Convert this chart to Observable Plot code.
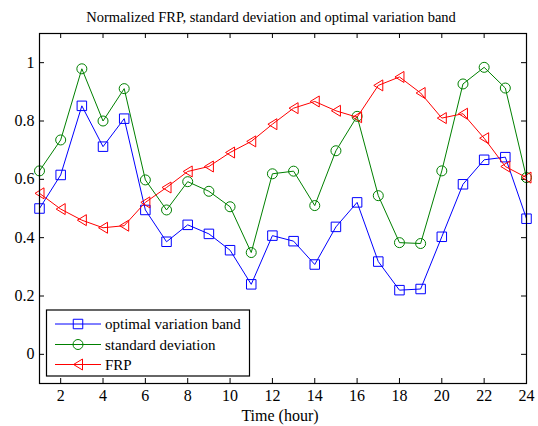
<!DOCTYPE html>
<html><head><meta charset="utf-8">
<script src="https://cdn.jsdelivr.net/npm/d3@7"></script>
<script src="https://cdn.jsdelivr.net/npm/@observablehq/plot@0.6"></script>
<style>body{margin:0;background:#fff}#chart{width:538px;height:426px}</style>
</head><body><div id="chart"></div>
<script>
const hours = [1,2,3,4,5,6,7,8,9,10,11,12,13,14,15,16,17,18,19,20,21,22,23,24];
const optimalBand = [0.50,0.615,0.852,0.712,0.808,0.495,0.386,0.444,0.413,0.357,0.240,0.407,0.388,0.308,0.437,0.521,0.318,0.220,0.224,0.403,0.583,0.667,0.676,0.465];
const stdDev = [0.629,0.735,0.979,0.800,0.911,0.598,0.495,0.592,0.559,0.506,0.349,0.619,0.628,0.510,0.698,0.816,0.544,0.383,0.380,0.629,0.927,0.984,0.913,0.606];
const frp = [0.552,0.498,0.460,0.434,0.441,0.521,0.572,0.627,0.644,0.692,0.730,0.789,0.844,0.867,0.835,0.813,0.922,0.951,0.896,0.810,0.825,0.741,0.644,0.606];
const xTicks = [2,4,6,8,10,12,14,16,18,20,22,24];
const yTicks = [0,0.2,0.4,0.6,0.8,1];
const seriesNames = ["optimal variation band","standard deviation","FRP"];
const seriesColors = ["#0000ff","#008000","#ff0000"];
const titleText = "Normalized FRP, standard deviation and optimal variation band";
const xLabelText = "Time (hour)";

const squareSym = {draw(ctx, size){ const r = Math.sqrt(size/Math.PI); const h = r*0.95; ctx.moveTo(-h,-h); ctx.lineTo(h,-h); ctx.lineTo(h,h); ctx.lineTo(-h,h); ctx.closePath(); }};
const triLeftSym = {draw(ctx, size){ const r = Math.sqrt(size/Math.PI); ctx.moveTo(-0.9*r,0); ctx.lineTo(0.9*r,-1.1*r); ctx.lineTo(0.9*r,1.1*r); ctx.closePath(); }};
const symbols = [squareSym, "circle", triLeftSym];

const seriesValues = [optimalBand, stdDev, frp];
const tables = seriesValues.map(vals => hours.map((h,i) => ({hour:h, value:vals[i]})));

const W = 538, H = 426, mT = 33, mB = 43, mL = 39, mR = 12;
const fh = H - mT - mB, fw = W - mL - mR, tl = 5;

const marks = [];
tables.forEach((t,k) => {
  marks.push(Plot.line(t, {x:"hour", y:"value", stroke: seriesColors[k], strokeWidth: 1}));
  marks.push(Plot.dot(t, {x:"hour", y:"value", stroke: seriesColors[k], symbol: symbols[k], r: 5, strokeWidth: 1, fill: "none"}));
});

const font = "'Liberation Serif', 'Times New Roman', serif";
const chart = Plot.plot({
  width: W, height: H,
  marginTop: mT, marginBottom: mB, marginLeft: mL, marginRight: mR,
  style: {fontFamily: font, fontSize: "16px", background: "white", color: "black"},
  x: {domain: [1,24], label: null},
  y: {domain: [-0.1,1.1], label: null},
  marks: [
    Plot.axisX(xTicks, {tickSize: 0, tickPadding: 6, label: null, fill: "black"}),
    Plot.axisY(yTicks, {tickSize: 0, tickPadding: 5, tickFormat: d3.format("~g"), label: null, fill: "black"}),
    Plot.tickX(xTicks, {x: d => d, insetTop: fh - tl, stroke: "black"}),
    Plot.tickX(xTicks, {x: d => d, insetBottom: fh - tl, stroke: "black"}),
    Plot.tickY(yTicks, {y: d => d, insetRight: fw - tl, stroke: "black"}),
    Plot.tickY(yTicks, {y: d => d, insetLeft: fw - tl, stroke: "black"}),
    ...marks,
    Plot.frame({stroke: "black", strokeWidth: 1.2})
  ]
});
document.getElementById("chart").appendChild(chart);

const svg = d3.select(chart);
svg.append("text").attr("x", 271).attr("y", 22).attr("text-anchor","middle")
  .attr("font-family", font).attr("font-size", "14.5px").attr("fill","black").text(titleText);
svg.append("text").attr("x", 280).attr("y", 421).attr("text-anchor","middle")
  .attr("font-family", font).attr("font-size", "16px").attr("fill","black").text(xLabelText);

const lg = svg.append("g");
lg.append("rect").attr("x", 46.5).attr("y", 310).attr("width", 203).attr("height", 66)
  .attr("fill","white").attr("stroke","black").attr("stroke-width",1.2);
const rowY = [324, 344.5, 364.5];
seriesNames.forEach((name,k) => {
  const y = rowY[k];
  lg.append("line").attr("x1",55).attr("x2",101).attr("y1",y).attr("y2",y).attr("stroke",seriesColors[k]).attr("stroke-width",1);
  const sym = k === 1 ? d3.symbolCircle : symbols[k];
  lg.append("path").attr("transform",`translate(78,${y})`).attr("d", d3.symbol(sym, 25*Math.PI)()).attr("fill","none").attr("stroke",seriesColors[k]);
  lg.append("text").attr("x",105).attr("y",y+5).attr("text-anchor","start").attr("font-family",font).attr("font-size","15px").attr("fill","black").text(name);
});
</script></body></html>
